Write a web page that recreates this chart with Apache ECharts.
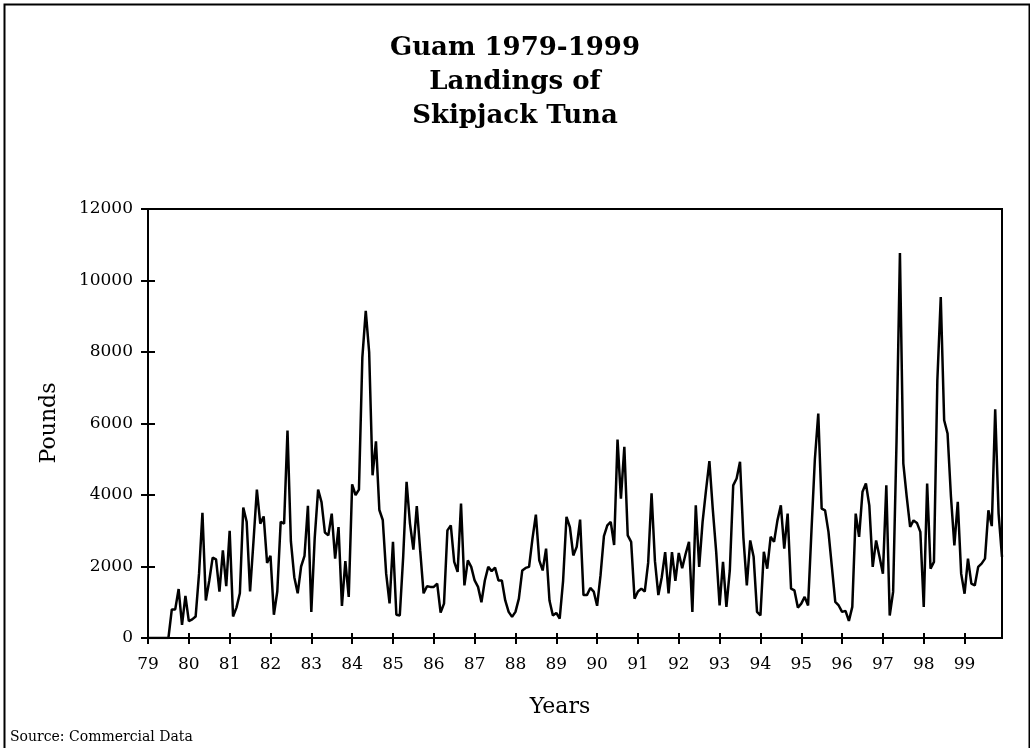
<!DOCTYPE html>
<html>
<head>
<meta charset="utf-8">
<script src="https://cdn.jsdelivr.net/npm/echarts@6/dist/echarts.min.js"></script>
<style>
html,body{margin:0;padding:0;background:#fff;}
#chart{width:1030px;height:748px;}
</style>
</head>
<body>
<div id="chart"></div>
<script>
// Monthly landings (pounds), Jan..Dec of each year
const y1979 = [0,0,0,0,0,0,0,800,800,1370,370,1180];
const y1980 = [470,520,600,1800,3500,1050,1600,2250,2200,1300,2450,1450];
const y1981 = [3000,600,850,1250,3650,3250,1300,2700,4150,3200,3400,2100];
const y1982 = [2300,650,1300,3250,3200,5800,2700,1700,1250,2000,2300,3700];
const y1983 = [730,2800,4150,3800,2950,2870,3480,2220,3100,900,2150,1150];
const y1984 = [4300,4000,4150,7850,9150,8000,4550,5500,3580,3300,1800,970];
const y1985 = [2690,650,630,2270,4370,3200,2470,3690,2450,1250,1450,1430];
const y1986 = [1430,1520,710,960,3010,3150,2130,1850,3760,1470,2170,1990];
const y1987 = [1610,1430,1000,1610,1990,1870,1970,1610,1610,1050,730,590];
const y1988 = [730,1100,1890,1960,1990,2780,3450,2170,1890,2500,1050,630];
const y1989 = [700,540,1600,3390,3100,2310,2550,3310,1200,1200,1400,1300];
const y1990 = [900,1750,2850,3150,3250,2600,5550,3900,5350,2870,2690,1100];
const y1991 = [1300,1380,1300,2100,4050,2150,1200,1700,2400,1250,2400,1600];
const y1992 = [2380,1950,2350,2690,730,3710,1990,3250,4130,4950,3600,2400];
const y1993 = [910,2130,870,1890,4270,4460,4930,2800,1470,2730,2270,730];
const y1994 = [630,2410,1940,2830,2690,3290,3710,2500,3480,1380,1330,850];
const y1995 = [960,1150,910,3000,5000,6280,3620,3570,2970,1990,1010,910];
const y1996 = [730,760,480,870,3480,2830,4090,4320,3710,1990,2730,2270];
const y1997 = [1800,4270,630,1290,5500,10770,4880,3950,3110,3290,3220,2970];
const y1998 = [870,4320,1940,2130,7210,9540,6090,5720,3950,2590,3810,1800];
const y1999 = [1240,2220,1520,1470,1990,2080,2220,3570,3130,6400,3480,2270];

const years = [79,80,81,82,83,84,85,86,87,88,89,90,91,92,93,94,95,96,97,98,99];
const yearLabels = ['79','80','81','82','83','84','85','86','87','88','89','90','91','92','93','94','95','96','97','98','99'];
const yTickValues = [0,2000,4000,6000,8000,10000,12000];

const byYear = [y1979,y1980,y1981,y1982,y1983,y1984,y1985,y1986,y1987,y1988,y1989,y1990,
                y1991,y1992,y1993,y1994,y1995,y1996,y1997,y1998,y1999];

const points = [];
byYear.forEach((arr, yi) => {
  arr.forEach((v, m) => points.push([years[yi] + m / 12, v]));
});
const xMin = years[0];
const xMax = years[years.length - 1] + 11 / 12;

const FONT = 'DejaVu Serif';
const labelFmt = v => {
  const r = Math.round(v);
  const idx = years.indexOf(r);
  return (Math.abs(v - r) < 1e-6 && idx >= 0) ? yearLabels[idx] : '';
};

const chart = echarts.init(document.getElementById('chart'), null, {renderer: 'canvas'});
const axisLineStyle = {color: '#000', width: 2};
const option = {
  animation: false,
  backgroundColor: '#fff',
  title: {
    text: 'Guam 1979-1999\nLandings of\nSkipjack Tuna',
    left: 'center',
    top: 26,
    textStyle: {fontFamily: FONT, fontWeight: 'bold', fontSize: 26, lineHeight: 34, color: '#000'}
  },
  grid: {left: 148, right: 28, top: 209, bottom: 110, show: true, borderColor: '#000', borderWidth: 2},
  xAxis: [
    {
      type: 'value', min: xMin, max: xMax, interval: 1, position: 'bottom',
      axisLine: {show: true, onZero: false, lineStyle: axisLineStyle},
      axisTick: {show: true, inside: false, length: 6, lineStyle: axisLineStyle},
      axisLabel: {margin: 18, color: '#000', fontFamily: FONT, fontSize: 17, formatter: labelFmt, showMaxLabel: false},
      splitLine: {show: false}
    },
    {
      type: 'value', min: xMin, max: xMax, interval: 1, position: 'bottom',
      axisLine: {show: true, onZero: false, lineStyle: axisLineStyle},
      axisTick: {show: true, inside: true, length: 5, lineStyle: axisLineStyle},
      axisLabel: {show: false},
      splitLine: {show: false}
    }
  ],
  yAxis: [
    {
      type: 'value', min: yTickValues[0], max: yTickValues[yTickValues.length - 1], interval: 2000, position: 'left',
      axisLine: {show: true, onZero: false, lineStyle: axisLineStyle},
      axisTick: {show: true, inside: false, length: 7, lineStyle: axisLineStyle},
      axisLabel: {margin: 15, color: '#000', fontFamily: FONT, fontSize: 17, formatter: v => String(v)},
      splitLine: {show: false}
    },
    {
      type: 'value', min: yTickValues[0], max: yTickValues[yTickValues.length - 1], interval: 2000, position: 'left',
      axisLine: {show: true, onZero: false, lineStyle: axisLineStyle},
      axisTick: {show: true, inside: true, length: 7, lineStyle: axisLineStyle},
      axisLabel: {show: false},
      splitLine: {show: false}
    }
  ],
  series: [{
    type: 'line',
    xAxisIndex: 0, yAxisIndex: 0,
    data: points,
    symbol: 'none',
    showSymbol: false,
    lineStyle: {color: '#000', width: 2.5},
    itemStyle: {color: '#000'},
    z: 3
  }],
  graphic: [
    {type: 'rect', left: 2, top: 2, z: -10, silent: true,
     shape: {x: 0, y: 0, width: 1025, height: 770},
     style: {fill: 'none', stroke: '#000', lineWidth: 2}},
    {type: 'text', x: 49, y: 423, rotation: Math.PI / 2, silent: true,
     style: {text: 'Pounds', x: 0, y: 0, align: 'center', verticalAlign: 'middle', fill: '#000', font: '22px "DejaVu Serif"'}},
    {type: 'text', x: 560, y: 707, silent: true,
     style: {text: 'Years', x: 0, y: 0, align: 'center', verticalAlign: 'middle', fill: '#000', font: '22px "DejaVu Serif"'}},
    {type: 'text', x: 10, y: 737, silent: true,
     style: {text: 'Source: Commercial Data', x: 0, y: 0, align: 'left', verticalAlign: 'middle', fill: '#000', font: '14px "DejaVu Serif"'}}
  ]
};
chart.setOption(option);
</script>
</body>
</html>
